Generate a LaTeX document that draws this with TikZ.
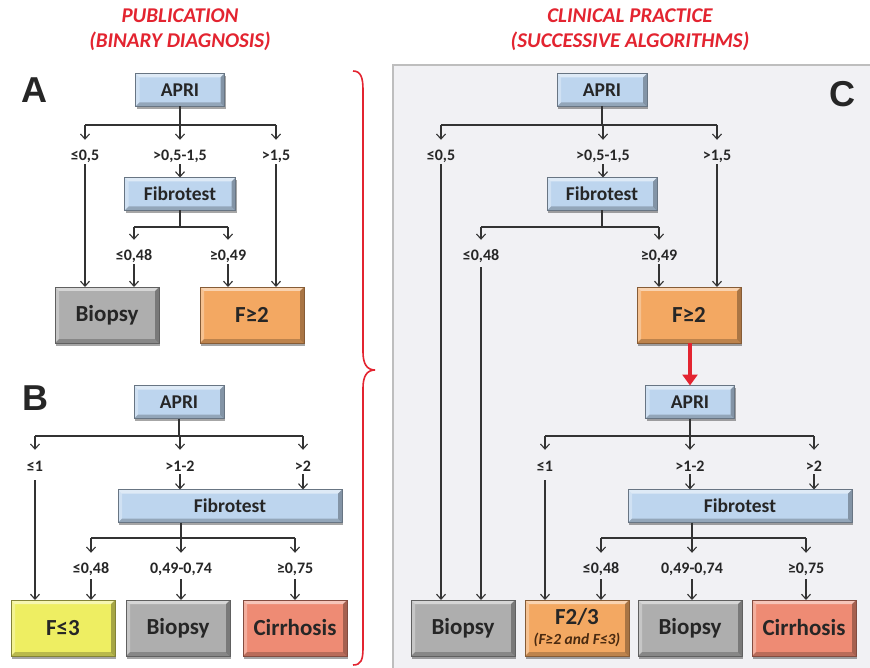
\documentclass[tikz,border=0pt]{standalone}
\usepackage{fontspec}
\setmainfont{Carlito}
\newfontfamily\letterfont{Liberation Sans}
\usetikzlibrary{arrows.meta,shadows}
\definecolor{blueF}{HTML}{BDD5EE}
\definecolor{grayF}{HTML}{AEAEAE}
\definecolor{orangeF}{HTML}{F3A862}
\definecolor{yellowF}{HTML}{EEEE62}
\definecolor{salmonF}{HTML}{EE8B74}
\definecolor{txt}{HTML}{262626}
\definecolor{lineC}{HTML}{333333}
\definecolor{titleR}{HTML}{E32430}
\definecolor{panelF}{HTML}{F1F1F4}
\definecolor{panelD}{HTML}{BEBEBE}
\definecolor{subT}{HTML}{4A2A10}
\tikzset{
  bevel/.style={path picture={
    \path (path picture bounding box.north west) coordinate (bvnw)
          (path picture bounding box.north east) coordinate (bvne)
          (path picture bounding box.south west) coordinate (bvsw)
          (path picture bounding box.south east) coordinate (bvse);
    \fill[white,opacity=.5] (bvnw) -- (bvne) -- ([shift={(-4pt,-4pt)}]bvne) -- ([shift={(4pt,-4pt)}]bvnw) -- cycle;
    \fill[white,opacity=.3] (bvnw) -- (bvsw) -- ([shift={(4pt,4pt)}]bvsw) -- ([shift={(4pt,-4pt)}]bvnw) -- cycle;
    \fill[black,opacity=.22] (bvsw) -- (bvse) -- ([shift={(-4pt,4pt)}]bvse) -- ([shift={(4pt,4pt)}]bvsw) -- cycle;
    \fill[black,opacity=.3] (bvne) -- (bvse) -- ([shift={(-4pt,4pt)}]bvse) -- ([shift={(-4pt,-4pt)}]bvne) -- cycle;
  }},
  box/.style={fill=#1, draw=#1!55!black, line width=0.8pt, inner sep=0pt, outer sep=0pt,
    text=txt, bevel, drop shadow={shadow xshift=1pt, shadow yshift=-2.5pt, opacity=0.35, fill=black}},
  testbox/.style={box=blueF, minimum height=33pt, font=\bfseries\fontsize{19.5}{20}\selectfont},
  endbox/.style={box=#1, minimum width=104pt, minimum height=56pt, font=\bfseries\fontsize{23}{23}\selectfont},
  lbl/.style={inner sep=0pt, minimum height=16pt, text=txt, font=\bfseries\fontsize{16}{16}\selectfont},
  conn/.style={draw=lineC, line width=1.1pt},
  arr/.style={conn, -{Straight Barb[length=5pt,width=9pt,line width=1.1pt]}},
  redarr/.style={draw=titleR, line width=4pt, -{Triangle[length=11pt,width=15pt]}},
  ttl/.style={text=titleR, font=\bfseries\itshape\fontsize{21}{25}\selectfont, align=center},
  panelletter/.style={text=txt, font=\letterfont\bfseries\fontsize{36}{36}\selectfont}
}
\begin{document}
\begin{tikzpicture}[x=1pt,y=-1pt]
\useasboundingbox (0,0) rectangle (870,668);
\fill[white] (0,0) rectangle (870,668);
% panel C background
\draw[fill=panelF, draw=panelD, line width=1.5pt] (393,65) rectangle (880,680);
% titles
\node[ttl] (t1) at (180,30) {PUBLICATION\\(BINARY DIAGNOSIS)};
\node[ttl] (t2) at (630,30) {CLINICAL PRACTICE\\(SUCCESSIVE ALGORITHMS)};
% letters
\node[panelletter] (LA) at (34,90) {A};
\node[panelletter] (LB) at (35,398) {B};
\node[panelletter] (LC) at (842,94) {C};
% brace
\draw[titleR, line width=1.6pt] (353,71) .. controls (361,71) and (363,78) .. (363,90) -- (363,352)
  .. controls (363,364) and (367,370) .. (375,370) .. controls (367,370) and (363,376) .. (363,388)
  -- (363,648) .. controls (363,660) and (361,665) .. (353,665);

% ================= Panel A =================
\node[testbox, minimum width=89pt] (aA) at (180,90) {APRI};
\node[testbox, minimum width=111pt] (fA) at (180,194) {Fibrotest};
\node[endbox=grayF] (bA) at (107,315) {Biopsy};
\node[endbox=orangeF] (gA) at (252,315) {F≥2};
\node[lbl] (la1) at (85,156) {≤0,5};
\node[lbl] (la2) at (180,156) {>0,5-1,5};
\node[lbl] (la3) at (276,156) {>1,5};
\node[lbl] (la4) at (134,256) {≤0,48};
\node[lbl] (la5) at (228,256) {≥0,49};
\coordinate (ja) at (180,125);
\coordinate (jb) at (180,227);
\draw[conn] (aA.south) -- (ja);
\draw[conn] (ja -| la1) -- (ja -| la3);
\draw[arr] (ja -| la1) -- ([yshift=8pt]la1.north);
\draw[arr] (ja) -- ([yshift=8pt]la2.north);
\draw[arr] (ja -| la3) -- ([yshift=8pt]la3.north);
\draw[arr] (la2.south) -- (fA.north);
\draw[arr] (la1.south) -- (la1.south |- bA.north);
\draw[arr] (la3.south) -- (la3.south |- gA.north);
\draw[conn] (fA.south) -- (jb);
\draw[conn] (jb -| la4) -- (jb -| la5);
\draw[arr] (jb -| la4) -- ([yshift=8pt]la4.north);
\draw[arr] (jb -| la5) -- ([yshift=8pt]la5.north);
\draw[arr] (la4.south) -- (la4.south |- bA.north);
\draw[arr] (la5.south) -- (la5.south |- gA.north);

% ================= Panel B =================
\node[testbox, minimum width=90pt] (aB) at (179,402) {APRI};
\node[testbox, minimum width=224pt] (fB) at (230,506) {Fibrotest};
\node[endbox=yellowF] (yB) at (63,628) {F≤3};
\node[endbox=grayF] (bB) at (178,628) {Biopsy};
\node[endbox=salmonF] (cB) at (295,628) {Cirrhosis};
\node[lbl] (lb1) at (35,466) {≤1};
\node[lbl] (lb2) at (180,466) {>1-2};
\node[lbl] (lb3) at (303,466) {>2};
\node[lbl] (lb4) at (91,569) {≤0,48};
\node[lbl] (lb5) at (181,569) {0,49-0,74};
\node[lbl] (lb6) at (295,569) {≥0,75};
\coordinate (jc) at (179,436);
\coordinate (jd) at (181,538);
\draw[conn] (aB.south) -- (jc);
\draw[conn] (jc -| lb1) -- (jc -| lb3);
\draw[arr] (jc -| lb1) -- ([yshift=8pt]lb1.north);
\draw[arr] (jc -| lb2) -- ([yshift=8pt]lb2.north);
\draw[arr] (jc -| lb3) -- ([yshift=8pt]lb3.north);
\draw[arr] (lb2.south) -- (lb2.south |- fB.north);
\draw[arr] (lb3.south) -- (lb3.south |- fB.north);
\draw[arr] ([yshift=-6pt]lb1.south) -- (lb1.south |- yB.north);
\draw[conn] (fB.south -| jd) -- (jd);
\draw[conn] (jd -| lb4) -- (jd -| lb6);
\draw[arr] (jd -| lb4) -- ([yshift=8pt]lb4.north);
\draw[arr] (jd -| lb5) -- ([yshift=8pt]lb5.north);
\draw[arr] (jd -| lb6) -- ([yshift=8pt]lb6.north);
\draw[arr] ([yshift=-2pt]lb4.south) -- (lb4.south |- yB.north);
\draw[arr] ([yshift=-2pt]lb5.south) -- (lb5.south |- bB.north);
\draw[arr] ([yshift=-2pt]lb6.south) -- (lb6.south |- cB.north);

% ================= Panel C =================
\node[testbox, minimum width=90pt] (aC) at (602,90) {APRI};
\node[testbox, minimum width=110pt] (fC) at (602,194) {Fibrotest};
\node[endbox=orangeF] (gC) at (689,315) {F≥2};
\node[lbl] (lc1) at (441,156) {≤0,5};
\node[lbl] (lc2) at (603,156) {>0,5-1,5};
\node[lbl] (lc3) at (717,156) {>1,5};
\node[lbl] (lc4) at (481,256) {≤0,48};
\node[lbl] (lc5) at (659,256) {≥0,49};
\coordinate (je) at (602,125);
\coordinate (jf) at (602,227);
\draw[conn] (aC.south) -- (je);
\draw[conn] (je -| lc1) -- (je -| lc3);
\draw[arr] (je -| lc1) -- ([yshift=8pt]lc1.north);
\draw[arr] (je -| lc2) -- ([yshift=8pt]lc2.north);
\draw[arr] (je -| lc3) -- ([yshift=8pt]lc3.north);
\draw[arr] (lc2.south) -- (lc2.south |- fC.north);
\draw[arr] (lc3.south) -- (lc3.south |- gC.north);
\draw[conn] (fC.south) -- (jf);
\draw[conn] (jf -| lc4) -- (jf -| lc5);
\draw[arr] (jf -| lc4) -- ([yshift=8pt]lc4.north);
\draw[arr] (jf -| lc5) -- ([yshift=8pt]lc5.north);
\draw[arr] (lc5.south) -- (lc5.south |- gC.north);

\node[testbox, minimum width=89pt] (aC2) at (690,402) {APRI};
\node[testbox, minimum width=224pt] (fC2) at (740,506) {Fibrotest};
\node[endbox=grayF] (bC1) at (463,628) {Biopsy};
\node[endbox=orangeF, align=center] (oC) at (577,628) {F2/3\\[-3pt]{\fontsize{15.5}{15.5}\selectfont\itshape\color{subT}(F≥2 and F≤3)}};
\node[endbox=grayF] (bC2) at (690,628) {Biopsy};
\node[endbox=salmonF] (cC) at (804,628) {Cirrhosis};
\node[lbl] (lc6) at (545,466) {≤1};
\node[lbl] (lc7) at (690,466) {>1-2};
\node[lbl] (lc8) at (814,466) {>2};
\node[lbl] (lc9) at (601,569) {≤0,48};
\node[lbl] (lc10) at (692,569) {0,49-0,74};
\node[lbl] (lc11) at (806,569) {≥0,75};
\draw[arr] (lc1.south) -- (lc1.south |- bC1.north);
\draw[arr] ([yshift=-3pt]lc4.south) -- (lc4.south |- bC1.north);
\draw[redarr] (gC.south -| aC2) -- (aC2.north);
\coordinate (jg) at (690,436);
\coordinate (jh) at (692,538);
\draw[conn] (aC2.south) -- (jg);
\draw[conn] (jg -| lc6) -- (jg -| lc8);
\draw[arr] (jg -| lc6) -- ([yshift=8pt]lc6.north);
\draw[arr] (jg -| lc7) -- ([yshift=8pt]lc7.north);
\draw[arr] (jg -| lc8) -- ([yshift=8pt]lc8.north);
\draw[arr] (lc7.south) -- (lc7.south |- fC2.north);
\draw[arr] (lc8.south) -- (lc8.south |- fC2.north);
\draw[arr] ([yshift=-6pt]lc6.south) -- (lc6.south |- oC.north);
\draw[conn] (fC2.south -| jh) -- (jh);
\draw[conn] (jh -| lc9) -- (jh -| lc11);
\draw[arr] (jh -| lc9) -- ([yshift=8pt]lc9.north);
\draw[arr] (jh -| lc10) -- ([yshift=8pt]lc10.north);
\draw[arr] (jh -| lc11) -- ([yshift=8pt]lc11.north);
\draw[arr] ([yshift=-2pt]lc9.south) -- (lc9.south |- oC.north);
\draw[arr] ([yshift=-2pt]lc10.south) -- (lc10.south |- bC2.north);
\draw[arr] ([yshift=-2pt]lc11.south) -- (lc11.south |- cC.north);
\end{tikzpicture}
\end{document}
